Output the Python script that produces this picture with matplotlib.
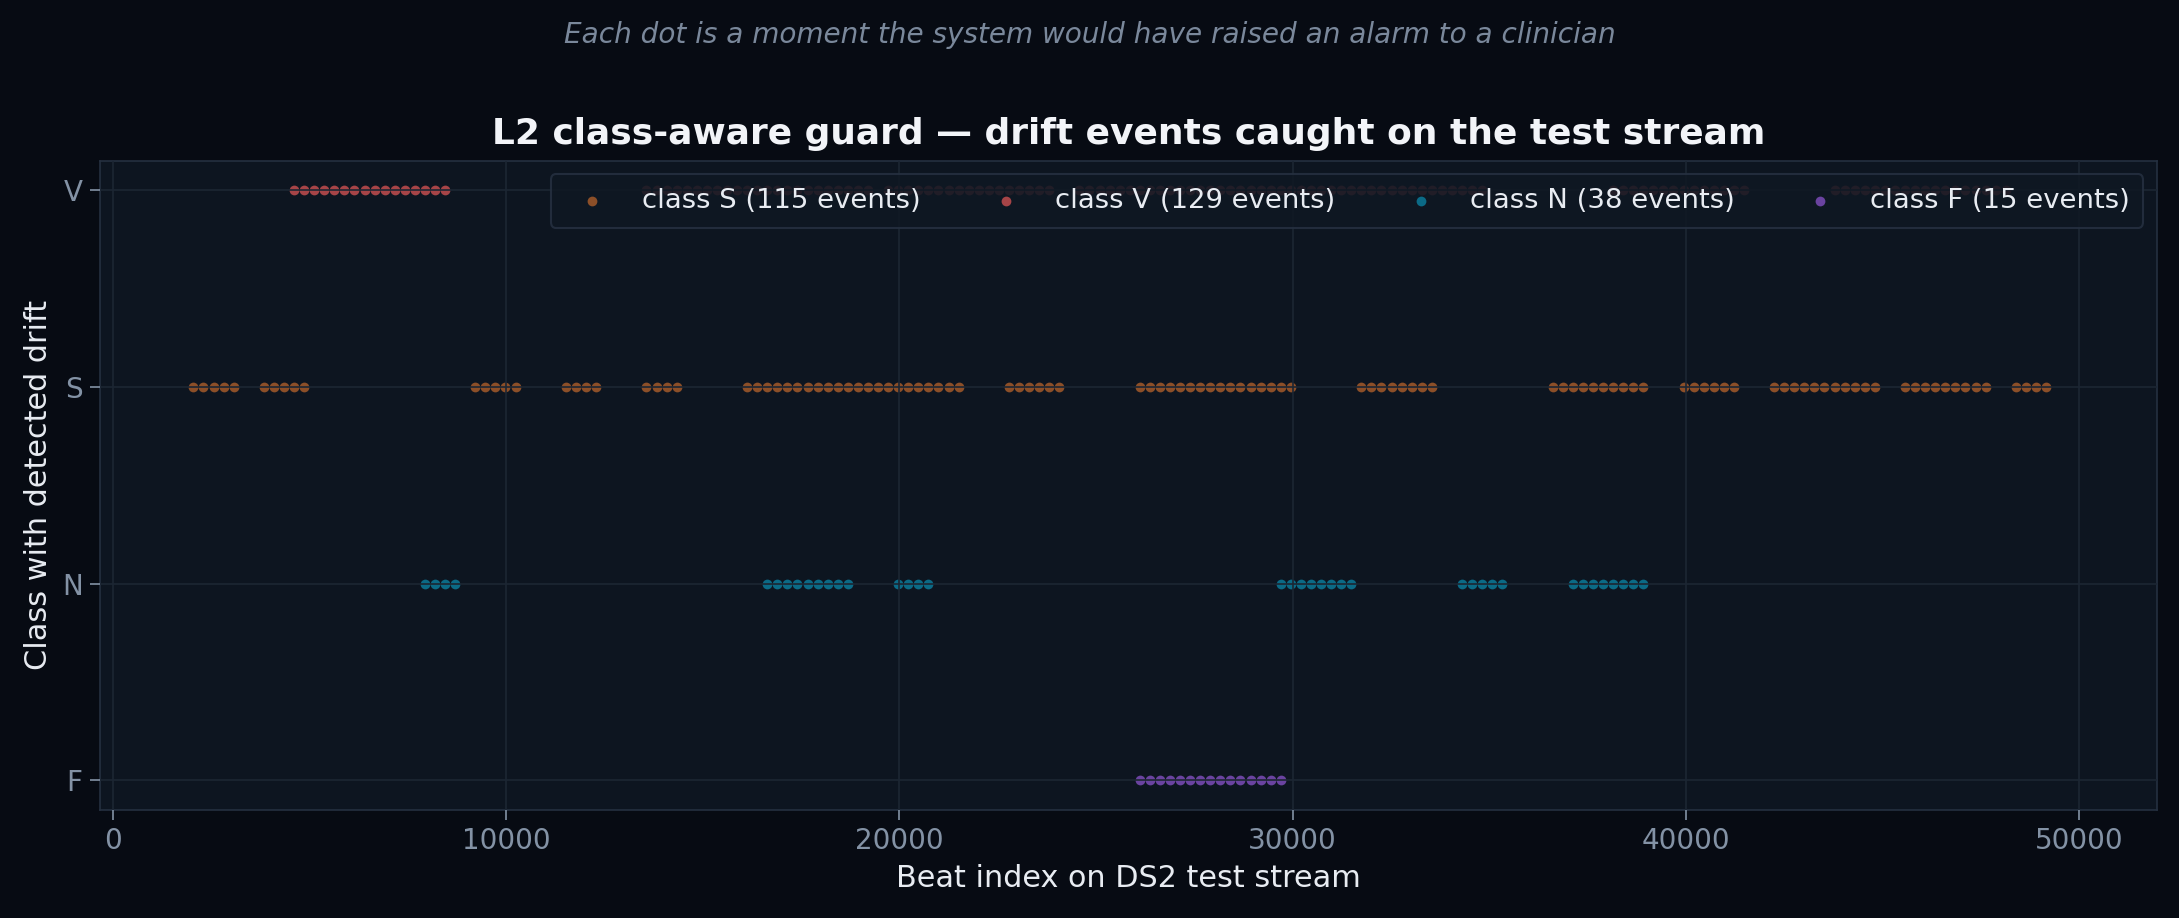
import matplotlib
matplotlib.use("Agg")
import matplotlib.pyplot as plt

# drift windows (each window = 256 beats) where the guard fired, per class
WINDOW = 256
s_windows = [8, 9, 10, 11, 12, 15, 16, 17, 18, 19, 36, 37, 38, 39, 40,
             45, 46, 47, 48, 53, 54, 55, 56,
             63, 64, 65, 66, 67, 68, 69, 70, 71, 72, 73, 74, 75, 76, 77, 78,
             79, 80, 81, 82, 83, 84,
             89, 90, 91, 92, 93, 94,
             102, 103, 104, 105, 106, 107, 108, 109, 110, 111, 112, 113, 114,
             115, 116, 117,
             124, 125, 126, 127, 128, 129, 130, 131,
             143, 144, 145, 146, 147, 148, 149, 150, 151, 152,
             156, 157, 158, 159, 160, 161,
             165, 166, 167, 168, 169, 170, 171, 172, 173, 174, 175,
             178, 179, 180, 181, 182, 183, 184, 185, 186,
             189, 190, 191, 192]
v_windows = [18, 19, 20, 21, 22, 23, 24, 25, 26, 27, 28, 29, 30, 31, 32, 33,
             53, 54, 55, 56, 57, 58, 59, 60, 61, 62, 63, 64, 65, 66, 67, 68,
             69, 70, 71, 72, 73, 74, 75,
             77, 78, 79, 80, 81, 82, 83, 84, 85, 86, 87, 88, 89, 90, 91, 92,
             93,
             96, 97, 98, 99, 100, 101, 102, 103, 104, 105, 106, 107, 108, 109,
             110, 111, 112, 113, 114, 115, 116, 117, 118, 119, 120, 121, 122,
             123, 124, 125, 126, 127, 128, 129, 130, 131, 132, 133, 134, 135,
             136,
             149, 150, 151, 152, 153, 154, 155, 156, 157, 158, 159, 160, 161,
             162,
             171, 172, 173, 174, 175, 176, 177, 178, 179, 180, 181, 182, 183,
             184, 185, 186, 187, 188]
n_windows = [31, 32, 33, 34,
             65, 66, 67, 68, 69, 70, 71, 72, 73,
             78, 79, 80, 81,
             116, 117, 118, 119, 120, 121, 122, 123,
             134, 135, 136, 137, 138,
             145, 146, 147, 148, 149, 150, 151, 152]
f_windows = [102, 103, 104, 105, 106, 107, 108, 109, 110, 111, 112, 113,
             114, 115, 116]

class_names = ["F", "N", "S", "V"]
series = [("S", s_windows, "#8c4f28"),
          ("V", v_windows, "#a64447"),
          ("N", n_windows, "#0b6a86"),
          ("F", f_windows, "#6a43a0")]

FIG_BG = "#070b13"
AX_BG = "#0d1520"
GRID = "#1c2633"
TICK = "#8392a5"

fig = plt.figure(figsize=(2179 / 150, 918 / 150), dpi=150, facecolor=FIG_BG)
ax = fig.add_axes([0.046, 0.118, 0.944, 0.707])
ax.set_facecolor(AX_BG)

for name, wins, color in series:
    beats = [w * WINDOW for w in wins]
    ax.scatter(beats, [class_names.index(name)] * len(beats), s=22,
               color=color, linewidths=0, zorder=1,
               label=f"class {name} ({len(wins)} events)")

ax.set_axisbelow(False)
ax.grid(True, color=GRID, linewidth=0.8)
ax.set_xlim(-320, 51980)
ax.set_ylim(-0.15, 3.15)
ax.set_yticks(range(len(class_names)))
ax.set_yticklabels(class_names)
ax.tick_params(colors=TICK, labelsize=13.3, length=5)
for sp in ax.spines.values():
    sp.set_color("#253040")

ax.set_xlabel("Beat index on DS2 test stream", color="#e8ecf2", fontsize=14.5)
ax.set_ylabel("Class with detected drift", color="#e8ecf2", fontsize=14.5)
ax.set_title("L2 class-aware guard — drift events caught on the test stream",
             color="#f2f4f8", fontsize=17.3, fontweight="bold", pad=8)
fig.text(0.5, 0.962, "Each dot is a moment the system would have raised an alarm to a clinician",
         ha="center", va="center", color="#7a889b", fontsize=13.4, style="italic")

leg = ax.legend(loc="upper right", ncol=4, fontsize=13.2, frameon=True,
                facecolor="#0f1823", edgecolor="#253040", framealpha=0.88,
                markerscale=1.0, handletextpad=0.8, columnspacing=2.1,
                borderpad=0.5, borderaxespad=0.5)
for t in leg.get_texts():
    t.set_color("#e8ecf2")

fig.savefig("out.png", dpi=150, facecolor=FIG_BG)
